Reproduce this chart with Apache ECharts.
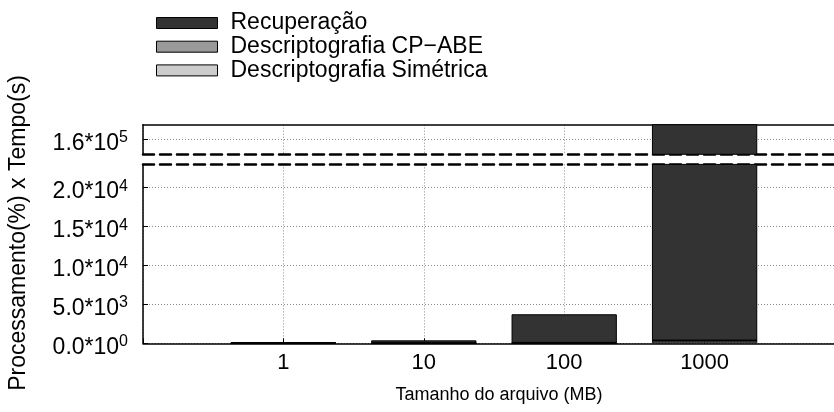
<!DOCTYPE html>
<html><head><meta charset="utf-8">
<script src="https://cdn.jsdelivr.net/npm/echarts@6/dist/echarts.min.js"></script>
<style>html,body{margin:0;padding:0;background:#fff}#c{width:834px;height:412px}</style>
</head><body><div id="c"></div>
<script>
// ---- data ----
const categories = ['1', '10', '100', '1000'];
const simetrica = [1, 4, 35, 330];
const cpabe = [15, 15, 16, 18];
const recuperacao = [150, 360, 3680, 180000];
const seriesNames = ['Descriptografia Simétrica', 'Descriptografia CP\u2212ABE', 'Recuperação'];
const legendOrder = ['Recuperação', 'Descriptografia CP\u2212ABE', 'Descriptografia Simétrica'];
const lowerRange = [0, 23000, 5000];
const upperRange = [158000, 162000, 2000];
const xTitle = 'Tamanho do arquivo (MB)';
const yTitle = 'Processamento(%) x Tempo(s)';

// ---- chart ----
const FONT = '"Liberation Sans", Arial, Helvetica, sans-serif';
const colors = ['#cccccc', '#999999', '#333333'];
const axisCats = [''].concat(categories, ['']);
const pad = arr => [null].concat(arr, [null]);
const values = [simetrica, cpabe, recuperacao];

function sciLabel(v) {
  const parts = v.toExponential(1).split('e');
  return '{b|' + parts[0] + '*10}{s|' + parseInt(parts[1], 10) + '}';
}
const richY = {
  b: { fontSize: 23, fontFamily: FONT, color: '#000', lineHeight: 25, verticalAlign: 'bottom' },
  s: { fontSize: 16, fontFamily: FONT, color: '#000', lineHeight: 16, verticalAlign: 'top' }
};
const dashed = { show: true, onZero: false, lineStyle: { color: '#000', width: 2.5, type: [11, 6] } };
const solid = { show: true, onZero: false, lineStyle: { color: '#000', width: 1.5 } };
const grey = '#8a8a8a';

const series = [];
[0, 1].forEach(g => {
  values.forEach((vals, i) => {
    series.push({
      name: seriesNames[i], type: 'bar', stack: g === 0 ? 'lo' : 'up',
      xAxisIndex: g === 0 ? 0 : 2, yAxisIndex: g, barWidth: '75%', clip: true,
      data: pad(vals), silent: true,
      itemStyle: { color: colors[i], borderColor: '#000', borderWidth: 1 }
    });
  });
});

const chart = echarts.init(document.getElementById('c'), null, { renderer: 'canvas' });
chart.setOption({
  animation: false,
  backgroundColor: '#fff',
  legend: {
    orient: 'vertical', left: 151, top: 6.5, padding: [5, 5, 5, 5], itemWidth: 61, itemHeight: 11, itemGap: 0.7,
    icon: 'rect', data: legendOrder, selectedMode: false,
    itemStyle: { borderColor: '#000', borderWidth: 1 },
    textStyle: { fontSize: 23, lineHeight: 22, fontFamily: FONT, color: '#000', padding: [0, 0, 0, 8] }
  },
  grid: [
    { left: 143, top: 164.4, width: 702, height: 178.9, outerBoundsMode: 'none', containLabel: false },
    { left: 143, top: 124.7, width: 702, height: 29.6, outerBoundsMode: 'none', containLabel: false }
  ],
  xAxis: [
    { gridIndex: 0, type: 'category', data: axisCats, boundaryGap: false, position: 'bottom',
      axisLine: solid, axisTick: { show: true, inside: true, length: 5, lineStyle: { color: '#000' } },
      axisLabel: { fontSize: 22, fontFamily: FONT, color: '#000', margin: 9 },
      splitLine: { show: true, lineStyle: { type: [1, 2], color: grey } } },
    { gridIndex: 0, type: 'category', data: axisCats, boundaryGap: false, position: 'top',
      axisLine: dashed, axisTick: { show: false }, axisLabel: { show: false }, splitLine: { show: false } },
    { gridIndex: 1, type: 'category', data: axisCats, boundaryGap: false, position: 'bottom',
      axisLine: dashed, axisTick: { show: false }, axisLabel: { show: false },
      splitLine: { show: true, lineStyle: { type: [1, 2], color: grey } } },
    { gridIndex: 1, type: 'category', data: axisCats, boundaryGap: false, position: 'top',
      axisLine: solid, axisTick: { show: false }, axisLabel: { show: false }, splitLine: { show: false } }
  ],
  yAxis: [
    { gridIndex: 0, type: 'value', min: lowerRange[0], max: lowerRange[1], interval: lowerRange[2],
      axisLine: solid, axisTick: { show: true, inside: true, length: 5, lineStyle: { color: '#000' } },
      axisLabel: { formatter: sciLabel, rich: richY, margin: 15, showMaxLabel: false, padding: [6, 0, 0, 0] },
      splitLine: { show: true, lineStyle: { type: [1, 2], color: [grey, grey, grey, grey, grey, 'transparent'] } } },
    { gridIndex: 1, type: 'value', min: upperRange[0], max: upperRange[1], interval: upperRange[2],
      axisLine: solid, axisTick: { show: true, inside: true, length: 5, lineStyle: { color: '#000' } },
      axisLabel: { formatter: sciLabel, rich: richY, margin: 15, showMinLabel: false, showMaxLabel: false, padding: [6, 0, 0, 0] },
      splitLine: { show: true, lineStyle: { type: [1, 2], color: ['transparent', grey, 'transparent'] } } }
  ],
  graphic: [
    { type: 'text', x: 19, y: 233, rotation: Math.PI / 2, silent: true,
      style: { text: yTitle, font: '23px ' + FONT, fill: '#000', align: 'center', verticalAlign: 'middle' } },
    { type: 'text', x: 499, y: 395, silent: true,
      style: { text: xTitle, font: '18px ' + FONT, fill: '#000', align: 'center', verticalAlign: 'middle' } }
  ],
  series: series
});
</script>
</body></html>
